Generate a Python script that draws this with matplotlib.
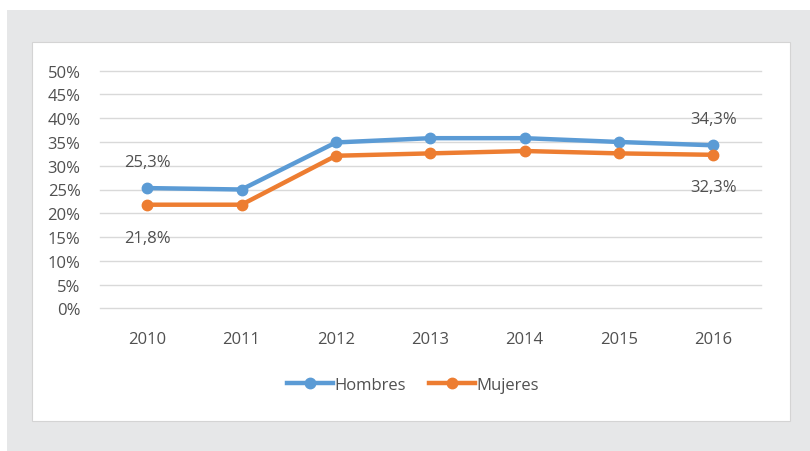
import matplotlib.pyplot as plt
from matplotlib.patches import Rectangle
from matplotlib.ticker import MultipleLocator, FuncFormatter

years = ['2010', '2011', '2012', '2013', '2014', '2015', '2016']
hombres = [25.3, 25.0, 34.9, 35.8, 35.8, 35.0, 34.3]
mujeres = [21.8, 21.8, 32.1, 32.6, 33.1, 32.6, 32.3]

blue = '#5b9bd5'
orange = '#ed7d31'
txt = '#505050'
fs = 12

plt.rcParams['font.family'] = ['Open Sans', 'DejaVu Sans']

fig = plt.figure(figsize=(8.1, 4.52), dpi=100)
W, H = 810, 452

# gray frame and white chart box
fig.patches.append(Rectangle((7 / W, 0), 1 - 7 / W, 1 - 11 / H, transform=fig.transFigure,
                             facecolor='#e6e7e8', edgecolor='none', zorder=-2))
fig.patches.append(Rectangle((32 / W, 1 - 422 / H), 758 / W, 379 / H, transform=fig.transFigure,
                             facecolor='white', edgecolor='#d4d4d4', lw=0.8, zorder=-1))

ax = fig.add_axes([100 / W, 1 - 309.3 / H, 660.5 / W, 237.6 / H])
ax.set_facecolor('none')

x = range(len(years))
ax.plot(x, hombres, color=blue, lw=3.2, marker='o', ms=7.5, label='Hombres', clip_on=False, zorder=3)
ax.plot(x, mujeres, color=orange, lw=3.2, marker='o', ms=7.5, label='Mujeres', clip_on=False, zorder=3)

ax.set_xlim(-0.5, len(years) - 0.5)
ax.set_ylim(0, 50)
ax.yaxis.set_major_locator(MultipleLocator(5))
ax.yaxis.set_major_formatter(FuncFormatter(lambda v, p: f'{int(v)}%'))
ax.set_xticks(list(x))
ax.set_xticklabels(years)
ax.grid(axis='y', color='#d9d9d9', lw=1)
for g in ax.get_ygridlines():
    g.set_clip_on(False)
ax.set_axisbelow(True)
for s in ax.spines.values():
    s.set_visible(False)
ax.tick_params(length=0, labelsize=fs, colors=txt)
ax.tick_params(axis='y', pad=14)
ax.tick_params(axis='x', pad=16.5)

def lab(v):
    return f'{v:.1f}%'.replace('.', ',')

ax.annotate(lab(hombres[0]), (0, hombres[0]), xytext=(0, 19), textcoords='offset points',
            ha='center', va='center', fontsize=fs, color=txt)
ax.annotate(lab(mujeres[0]), (0, mujeres[0]), xytext=(0, -24), textcoords='offset points',
            ha='center', va='center', fontsize=fs, color=txt)
ax.annotate(lab(hombres[-1]), (6, hombres[-1]), xytext=(0, 19), textcoords='offset points',
            ha='center', va='center', fontsize=fs, color=txt)
ax.annotate(lab(mujeres[-1]), (6, mujeres[-1]), xytext=(0, -23.5), textcoords='offset points',
            ha='center', va='center', fontsize=fs, color=txt)

leg = fig.legend(loc='center', bbox_to_anchor=(413 / W, 1 - 386 / H), ncol=2, frameon=False,
                 fontsize=fs, handlelength=2.75, handletextpad=0.1, columnspacing=1.4,
                 labelcolor=txt)

fig.savefig('out.png', dpi=100)
